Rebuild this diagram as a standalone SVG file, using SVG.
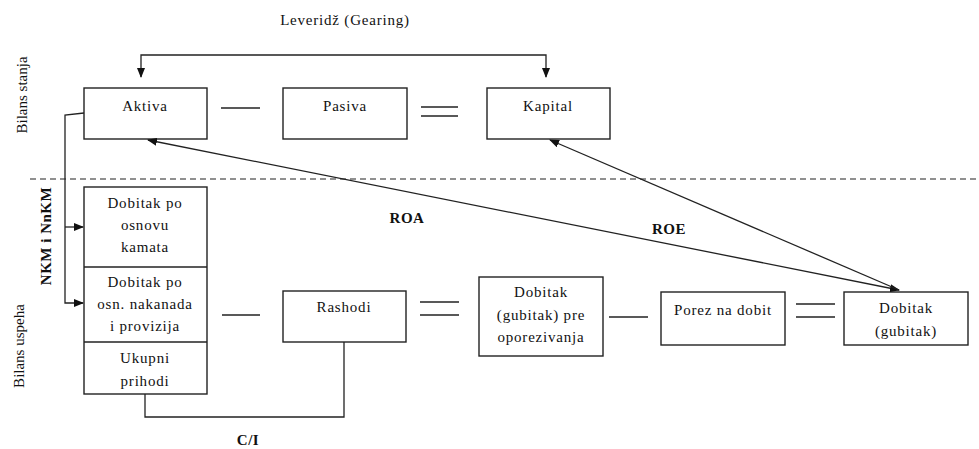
<svg xmlns="http://www.w3.org/2000/svg" width="979" height="449" viewBox="0 0 979 449">
<style>
.box{fill:#fff;stroke:#222;stroke-width:1.4}
.ln{fill:none;stroke:#222;stroke-width:1.3}
.t{font-family:'Liberation Serif','Times New Roman',Tinos,'DejaVu Serif',serif;font-size:15px;fill:#111;text-anchor:middle;letter-spacing:0.8px}
.b{font-weight:bold;letter-spacing:0.5px}
.dash{stroke:#222;stroke-width:1.2;stroke-dasharray:6 4}
</style>
<defs>
<marker id="ah" markerWidth="10" markerHeight="8" refX="9" refY="4" orient="auto-start-reverse" markerUnits="userSpaceOnUse">
<path d="M0,0 L10,4 L0,8 Z" fill="#111"/>
</marker>
</defs>
<rect width="979" height="449" fill="#fff"/>

<text class="t" x="345" y="25">Leveridž (Gearing)</text>
<text class="t" style="letter-spacing:0" transform="translate(27,95) rotate(-90)">Bilans stanja</text>
<text class="t" style="letter-spacing:0" transform="translate(24,346) rotate(-90)">Bilans uspeha</text>
<text class="t b" transform="translate(51,236) rotate(-90)">NKM i NnKM</text>
<text class="t b" x="407" y="223">ROA</text>
<text class="t b" x="669" y="234">ROE</text>
<text class="t b" x="248" y="445">C/I</text>

<line class="dash" x1="30" y1="179" x2="979" y2="179"/>

<g id="aktiva"><rect class="box" x="84" y="88" width="123" height="51"/><text class="t" x="145" y="111">Aktiva</text></g>
<g id="pasiva"><rect class="box" x="283" y="88" width="124" height="51"/><text class="t" x="345" y="111">Pasiva</text></g>
<g id="kapital"><rect class="box" x="487" y="88" width="123" height="51"/><text class="t" x="548" y="111">Kapital</text></g>

<g id="prihodi">
<rect class="box" x="84" y="187" width="123" height="207"/>
<line class="ln" x1="84" y1="267" x2="207" y2="267"/>
<line class="ln" x1="84" y1="342" x2="207" y2="342"/>
<text class="t" x="145" y="208">Dobitak po</text>
<text class="t" x="145" y="230">osnovu</text>
<text class="t" x="145" y="252">kamata</text>
<text class="t" x="145" y="287">Dobitak po</text>
<text class="t" x="145" y="309">osn. nakanada</text>
<text class="t" x="145" y="331">i provizija</text>
<text class="t" x="145" y="363">Ukupni</text>
<text class="t" x="145" y="386">prihodi</text>
</g>
<g id="rashodi"><rect class="box" x="283" y="291" width="123" height="51"/><text class="t" x="344" y="312">Rashodi</text></g>
<g id="dobitak-pre"><rect class="box" x="479" y="277" width="124" height="79"/>
<text class="t" x="541" y="297">Dobitak</text>
<text class="t" x="541" y="320">(gubitak) pre</text>
<text class="t" x="541" y="342">oporezivanja</text></g>
<g id="porez"><rect class="box" x="661" y="292" width="124" height="53"/><text class="t" x="723" y="315">Porez na dobit</text></g>
<g id="dobitak"><rect class="box" x="844" y="292" width="124" height="53"/>
<text class="t" x="906" y="313">Dobitak</text>
<text class="t" x="906" y="336">(gubitak)</text></g>

<g id="connectors">
<polyline class="ln" points="141,77 141,55 546,55 546,77" marker-start="url(#ah)" marker-end="url(#ah)"/>
<line class="ln" x1="221" y1="108" x2="260" y2="108"/>
<line class="ln" x1="421" y1="107" x2="458" y2="107"/>
<line class="ln" x1="421" y1="116" x2="458" y2="116"/>
<polyline class="ln" points="84,113 65,115 65,303 83,303" marker-end="url(#ah)"/>
<line class="ln" x1="65" y1="227" x2="83" y2="227" marker-end="url(#ah)"/>
<line class="ln" x1="222" y1="315" x2="260" y2="315"/>
<line class="ln" x1="420" y1="302" x2="459" y2="302"/>
<line class="ln" x1="420" y1="315" x2="459" y2="315"/>
<line class="ln" x1="609" y1="317" x2="648" y2="317"/>
<line class="ln" x1="796" y1="304" x2="835" y2="304"/>
<line class="ln" x1="796" y1="317" x2="835" y2="317"/>
<polyline class="ln" points="145,394 145,417 344,417 344,342"/>
<line class="ln" x1="899" y1="290" x2="148" y2="140" marker-start="url(#ah)" marker-end="url(#ah)"/>
<line class="ln" x1="899" y1="290" x2="550" y2="140" marker-end="url(#ah)"/>
</g>
</svg>
